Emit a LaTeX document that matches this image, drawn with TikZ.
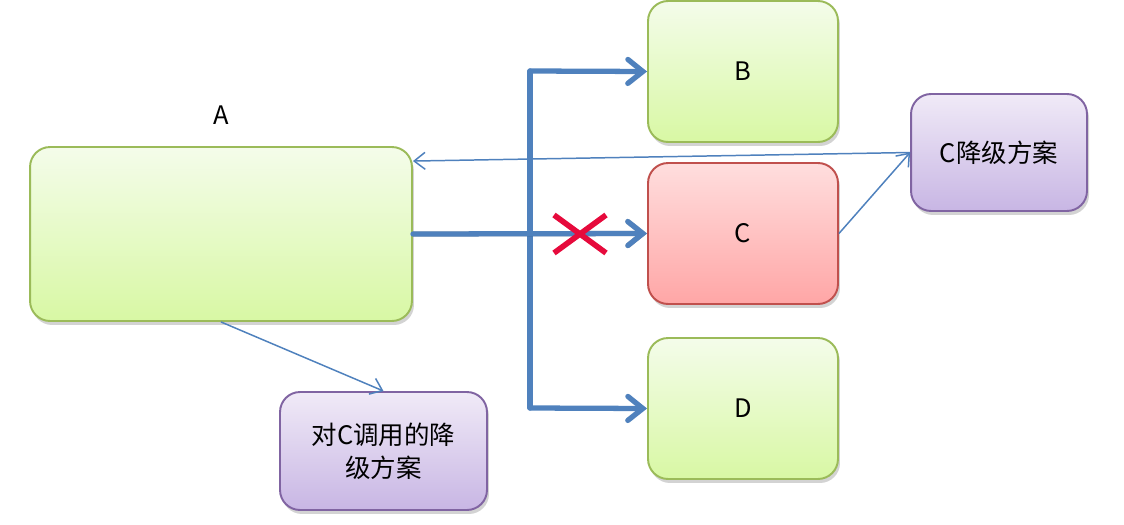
\documentclass[tikz,border=0pt]{standalone}
\usepackage{fontspec}
\setmainfont{Noto Sans CJK SC}
\usetikzlibrary{positioning,shadows,arrows.meta}
\definecolor{linkblue}{RGB}{79,129,189}
\definecolor{okline}{RGB}{155,187,89}
\definecolor{badline}{RGB}{192,80,77}
\definecolor{planline}{RGB}{128,100,162}
\definecolor{crossred}{RGB}{230,10,60}
\tikzset{
  svc/.style={rounded corners=0.4cm, draw=okline, line width=1.1pt,
    top color={rgb,255:red,244;green,252;blue,234}, bottom color={rgb,255:red,216;green,248;blue,164},
    drop shadow={opacity=0.35, shadow xshift=0.04cm, shadow yshift=-0.08cm},
    minimum width=3.8cm, minimum height=2.82cm, font=\fontsize{14.5}{19}\selectfont},
  failsvc/.style={svc, draw=badline,
    top color={rgb,255:red,255;green,222;blue,222}, bottom color={rgb,255:red,255;green,166;blue,166}},
  plan/.style={svc, draw=planline, align=center,
    top color={rgb,255:red,240;green,234;blue,247}, bottom color={rgb,255:red,200;green,182;blue,228}},
  bus/.style={linkblue, line width=3pt, line cap=round,
    -{Straight Barb[length=0.3cm,width=0.48cm,line cap=round]}},
  link/.style={linkblue, line width=0.85pt,
    -{Straight Barb[length=0.22cm,width=0.34cm]}},
  cross/.style={crossred, line width=3.2pt}
}
\begin{document}
\begin{tikzpicture}[x=0.02cm,y=-0.02cm]
  \useasboundingbox (0,0) rectangle (1124,524);
  % services
  \node (A) [svc, minimum width=7.64cm, minimum height=3.48cm] at (221,234) {};
  \node (Alabel) [above=0.3cm of A, font=\fontsize{14.5}{19}\selectfont] {A};
  \node (B) [svc] at (743,71.5) {B};
  \node (C) [failsvc] at (743,233.5) {C};
  \node (D) [svc] at (743,408.5) {D};
  % fallback plans
  \node (Cplan) [plan, minimum width=3.52cm, minimum height=2.34cm] at (999,152.5) {C降级方案};
  \node (Aplan) [plan, minimum width=4.14cm, minimum height=2.36cm] at (383.5,451) {对C调用的降\\级方案};
  % calls from A
  \coordinate (top) at (530,71);
  \coordinate (bot) at (530,408);
  \draw [bus, -] (top) -- (bot);
  \draw [bus] (top) -- (B.west);
  \draw [bus] (bot) -- (D.west);
  \draw [bus, preaction={draw=black, opacity=0.25, line width=3pt, yshift=-1.5pt}] (A.east) -- (C.west);
  \draw [cross] (554,215) -- (606,253);
  \draw [cross] (554,253) -- (606,215);
  % fallback links
  \draw [link] (C.east) -- (Cplan.west);
  \draw [link] (Cplan.west) -- ([yshift=-0.3cm]A.north east);
  \draw [link] (A.south) -- (Aplan.north);
\end{tikzpicture}
\end{document}
